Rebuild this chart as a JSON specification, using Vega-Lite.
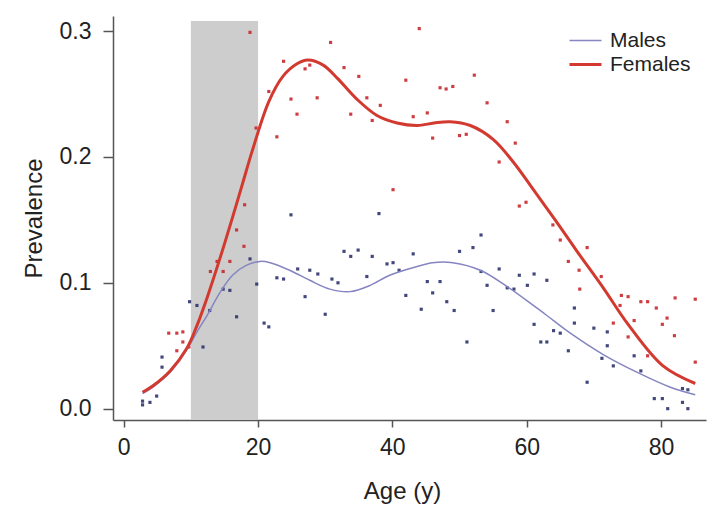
{
  "$schema": "https://vega.github.io/schema/vega-lite/v6.json",
  "width": 593,
  "height": 404,
  "autosize": {"type": "none"},
  "padding": {"left": 113, "top": 16, "right": 22, "bottom": 93},
  "background": "white",
  "config": {
    "view": {"stroke": null},
    "font": "Liberation Sans",
    "axis": {"grid": false, "domainColor": "#555", "domainWidth": 1.5, "tickColor": "#555", "tickWidth": 1.5, "labelColor": "#222", "titleColor": "#222", "labelFont": "Liberation Sans", "titleFont": "Liberation Sans", "titleFontWeight": "normal", "labelFontSize": 23, "titleFontSize": 24}
  },
  "datasets": {
    "band": [{"x1": 10, "x2": 20, "ytop": 0.308, "ybot": -0.009}],
    "points": [
      {"age": 18.8, "prev": 0.299, "sex": "F"}, {"age": 30.8, "prev": 0.291, "sex": "F"}, {"age": 23.8, "prev": 0.276, "sex": "F"},
      {"age": 27, "prev": 0.27, "sex": "F"}, {"age": 27.7, "prev": 0.273, "sex": "F"}, {"age": 28.8, "prev": 0.247, "sex": "F"},
      {"age": 24.9, "prev": 0.246, "sex": "F"}, {"age": 25.8, "prev": 0.234, "sex": "F"}, {"age": 22.8, "prev": 0.216, "sex": "F"},
      {"age": 32.8, "prev": 0.271, "sex": "F"}, {"age": 35, "prev": 0.264, "sex": "F"}, {"age": 36.2, "prev": 0.247, "sex": "F"},
      {"age": 33.8, "prev": 0.234, "sex": "F"}, {"age": 38.2, "prev": 0.241, "sex": "F"}, {"age": 37, "prev": 0.229, "sex": "F"},
      {"age": 42, "prev": 0.261, "sex": "F"}, {"age": 43.1, "prev": 0.232, "sex": "F"}, {"age": 44, "prev": 0.302, "sex": "F"},
      {"age": 47.1, "prev": 0.255, "sex": "F"}, {"age": 48, "prev": 0.254, "sex": "F"}, {"age": 49, "prev": 0.256, "sex": "F"},
      {"age": 52.2, "prev": 0.265, "sex": "F"}, {"age": 54.1, "prev": 0.243, "sex": "F"}, {"age": 45.2, "prev": 0.235, "sex": "F"},
      {"age": 46, "prev": 0.215, "sex": "F"}, {"age": 50, "prev": 0.217, "sex": "F"}, {"age": 51, "prev": 0.218, "sex": "F"},
      {"age": 57.1, "prev": 0.228, "sex": "F"}, {"age": 58.3, "prev": 0.211, "sex": "F"}, {"age": 55.9, "prev": 0.196, "sex": "F"},
      {"age": 58.9, "prev": 0.161, "sex": "F"}, {"age": 59.9, "prev": 0.164, "sex": "F"}, {"age": 21.6, "prev": 0.252, "sex": "F"},
      {"age": 19.7, "prev": 0.223, "sex": "F"}, {"age": 18, "prev": 0.162, "sex": "F"}, {"age": 40.1, "prev": 0.174, "sex": "F"},
      {"age": 63.9, "prev": 0.146, "sex": "F"}, {"age": 65, "prev": 0.134, "sex": "F"}, {"age": 66.2, "prev": 0.117, "sex": "F"},
      {"age": 69, "prev": 0.128, "sex": "F"}, {"age": 67.8, "prev": 0.11, "sex": "F"}, {"age": 71.1, "prev": 0.105, "sex": "F"},
      {"age": 67.9, "prev": 0.095, "sex": "F"}, {"age": 74.1, "prev": 0.09, "sex": "F"}, {"age": 75.1, "prev": 0.089, "sex": "F"},
      {"age": 77, "prev": 0.085, "sex": "F"}, {"age": 78, "prev": 0.085, "sex": "F"}, {"age": 73.9, "prev": 0.082, "sex": "F"},
      {"age": 79.3, "prev": 0.08, "sex": "F"}, {"age": 82.1, "prev": 0.088, "sex": "F"}, {"age": 85.1, "prev": 0.087, "sex": "F"},
      {"age": 80.9, "prev": 0.072, "sex": "F"}, {"age": 76, "prev": 0.07, "sex": "F"}, {"age": 80.2, "prev": 0.067, "sex": "F"},
      {"age": 72.9, "prev": 0.068, "sex": "F"}, {"age": 75.1, "prev": 0.057, "sex": "F"}, {"age": 82, "prev": 0.058, "sex": "F"},
      {"age": 78, "prev": 0.042, "sex": "F"}, {"age": 85.1, "prev": 0.037, "sex": "F"},
      {"age": 6.7, "prev": 0.06, "sex": "F"}, {"age": 7.9, "prev": 0.06, "sex": "F"}, {"age": 8.8, "prev": 0.061, "sex": "F"},
      {"age": 8.8, "prev": 0.053, "sex": "F"}, {"age": 9.7, "prev": 0.049, "sex": "F"}, {"age": 7.9, "prev": 0.046, "sex": "F"},
      {"age": 16.8, "prev": 0.142, "sex": "F"}, {"age": 17.9, "prev": 0.129, "sex": "F"}, {"age": 15.8, "prev": 0.117, "sex": "F"},
      {"age": 13.9, "prev": 0.117, "sex": "F"}, {"age": 12.9, "prev": 0.109, "sex": "F"}, {"age": 14.8, "prev": 0.109, "sex": "F"},
      {"age": 2.8, "prev": 0.006, "sex": "M"}, {"age": 2.8, "prev": 0.003, "sex": "M"}, {"age": 3.9, "prev": 0.005, "sex": "M"},
      {"age": 4.9, "prev": 0.01, "sex": "M"}, {"age": 5.7, "prev": 0.041, "sex": "M"}, {"age": 5.7, "prev": 0.033, "sex": "M"},
      {"age": 9.8, "prev": 0.085, "sex": "M"}, {"age": 10.9, "prev": 0.082, "sex": "M"}, {"age": 11.8, "prev": 0.049, "sex": "M"},
      {"age": 12.8, "prev": 0.078, "sex": "M"}, {"age": 14.8, "prev": 0.095, "sex": "M"}, {"age": 15.8, "prev": 0.094, "sex": "M"},
      {"age": 16.8, "prev": 0.073, "sex": "M"}, {"age": 18.8, "prev": 0.119, "sex": "M"}, {"age": 19.8, "prev": 0.099, "sex": "M"},
      {"age": 20.9, "prev": 0.068, "sex": "M"}, {"age": 21.6, "prev": 0.065, "sex": "M"},
      {"age": 24.9, "prev": 0.154, "sex": "M"}, {"age": 38, "prev": 0.155, "sex": "M"},
      {"age": 22.8, "prev": 0.104, "sex": "M"}, {"age": 23.8, "prev": 0.103, "sex": "M"}, {"age": 25.9, "prev": 0.111, "sex": "M"},
      {"age": 27.7, "prev": 0.11, "sex": "M"}, {"age": 28.9, "prev": 0.107, "sex": "M"}, {"age": 31, "prev": 0.103, "sex": "M"},
      {"age": 31.9, "prev": 0.1, "sex": "M"}, {"age": 27, "prev": 0.089, "sex": "M"}, {"age": 30, "prev": 0.075, "sex": "M"},
      {"age": 32.8, "prev": 0.125, "sex": "M"}, {"age": 33.8, "prev": 0.121, "sex": "M"}, {"age": 34.9, "prev": 0.126, "sex": "M"},
      {"age": 37, "prev": 0.121, "sex": "M"}, {"age": 36.2, "prev": 0.105, "sex": "M"}, {"age": 39.2, "prev": 0.115, "sex": "M"},
      {"age": 40.1, "prev": 0.116, "sex": "M"}, {"age": 41, "prev": 0.11, "sex": "M"}, {"age": 43.1, "prev": 0.123, "sex": "M"},
      {"age": 42, "prev": 0.09, "sex": "M"}, {"age": 44.3, "prev": 0.079, "sex": "M"},
      {"age": 45.2, "prev": 0.101, "sex": "M"}, {"age": 47.1, "prev": 0.101, "sex": "M"}, {"age": 46, "prev": 0.092, "sex": "M"},
      {"age": 48.1, "prev": 0.085, "sex": "M"}, {"age": 49.2, "prev": 0.078, "sex": "M"}, {"age": 50, "prev": 0.125, "sex": "M"},
      {"age": 52, "prev": 0.128, "sex": "M"}, {"age": 53.2, "prev": 0.138, "sex": "M"}, {"age": 53.2, "prev": 0.109, "sex": "M"},
      {"age": 55.9, "prev": 0.111, "sex": "M"}, {"age": 54.1, "prev": 0.098, "sex": "M"}, {"age": 55, "prev": 0.078, "sex": "M"},
      {"age": 51.1, "prev": 0.053, "sex": "M"}, {"age": 57.1, "prev": 0.096, "sex": "M"}, {"age": 58.1, "prev": 0.095, "sex": "M"},
      {"age": 58.9, "prev": 0.106, "sex": "M"}, {"age": 61.1, "prev": 0.107, "sex": "M"}, {"age": 63, "prev": 0.102, "sex": "M"},
      {"age": 60.1, "prev": 0.098, "sex": "M"}, {"age": 61.1, "prev": 0.067, "sex": "M"}, {"age": 62.1, "prev": 0.053, "sex": "M"},
      {"age": 63, "prev": 0.053, "sex": "M"}, {"age": 64, "prev": 0.062, "sex": "M"}, {"age": 65, "prev": 0.06, "sex": "M"},
      {"age": 66.2, "prev": 0.046, "sex": "M"},
      {"age": 67.1, "prev": 0.08, "sex": "M"}, {"age": 67.1, "prev": 0.068, "sex": "M"}, {"age": 70, "prev": 0.064, "sex": "M"},
      {"age": 72, "prev": 0.061, "sex": "M"}, {"age": 72, "prev": 0.05, "sex": "M"}, {"age": 71.2, "prev": 0.04, "sex": "M"},
      {"age": 72.9, "prev": 0.034, "sex": "M"}, {"age": 76, "prev": 0.042, "sex": "M"}, {"age": 77, "prev": 0.03, "sex": "M"},
      {"age": 69, "prev": 0.021, "sex": "M"}, {"age": 79, "prev": 0.008, "sex": "M"}, {"age": 80.2, "prev": 0.008, "sex": "M"},
      {"age": 81, "prev": 0.0, "sex": "M"}, {"age": 83.2, "prev": 0.005, "sex": "M"}, {"age": 84, "prev": 0.0, "sex": "M"},
      {"age": 83.2, "prev": 0.016, "sex": "M"}, {"age": 84, "prev": 0.015, "sex": "M"}
    ],
    "curves": [
      {"age": 2.8, "prev": 0.012, "series": "Males"}, {"age": 4.3, "prev": 0.017, "series": "Males"}, {"age": 6.9, "prev": 0.029, "series": "Males"},
      {"age": 9.4, "prev": 0.047, "series": "Males"}, {"age": 10.9, "prev": 0.061, "series": "Males"}, {"age": 12.4, "prev": 0.074, "series": "Males"},
      {"age": 14.3, "prev": 0.092, "series": "Males"}, {"age": 16.2, "prev": 0.106, "series": "Males"}, {"age": 18.3, "prev": 0.114, "series": "Males"},
      {"age": 20.3, "prev": 0.117, "series": "Males"}, {"age": 21.8, "prev": 0.116, "series": "Males"}, {"age": 24.7, "prev": 0.11, "series": "Males"},
      {"age": 27.7, "prev": 0.102, "series": "Males"}, {"age": 30.7, "prev": 0.095, "series": "Males"}, {"age": 33.7, "prev": 0.093, "series": "Males"},
      {"age": 36.7, "prev": 0.098, "series": "Males"}, {"age": 39.6, "prev": 0.106, "series": "Males"}, {"age": 43.7, "prev": 0.113, "series": "Males"},
      {"age": 46, "prev": 0.116, "series": "Males"}, {"age": 49, "prev": 0.116, "series": "Males"}, {"age": 53.1, "prev": 0.11, "series": "Males"},
      {"age": 57.1, "prev": 0.097, "series": "Males"}, {"age": 61, "prev": 0.082, "series": "Males"}, {"age": 64, "prev": 0.07, "series": "Males"},
      {"age": 66.5, "prev": 0.06, "series": "Males"}, {"age": 71.4, "prev": 0.043, "series": "Males"}, {"age": 76.4, "prev": 0.029, "series": "Males"},
      {"age": 81.4, "prev": 0.017, "series": "Males"}, {"age": 85.1, "prev": 0.011, "series": "Males"},
      {"age": 2.8, "prev": 0.013, "series": "Females"}, {"age": 4.3, "prev": 0.018, "series": "Females"}, {"age": 6.9, "prev": 0.03, "series": "Females"},
      {"age": 9.4, "prev": 0.048, "series": "Females"}, {"age": 10.9, "prev": 0.066, "series": "Females"}, {"age": 12.4, "prev": 0.088, "series": "Females"},
      {"age": 14.3, "prev": 0.119, "series": "Females"}, {"age": 16.2, "prev": 0.152, "series": "Females"}, {"age": 17.7, "prev": 0.179, "series": "Females"},
      {"age": 19.2, "prev": 0.206, "series": "Females"}, {"age": 21.6, "prev": 0.244, "series": "Females"}, {"age": 23.7, "prev": 0.264, "series": "Females"},
      {"age": 25.8, "prev": 0.274, "series": "Females"}, {"age": 27.4, "prev": 0.277, "series": "Females"}, {"age": 29.7, "prev": 0.273, "series": "Females"},
      {"age": 31.9, "prev": 0.262, "series": "Females"}, {"age": 34.7, "prev": 0.246, "series": "Females"}, {"age": 37.7, "prev": 0.233, "series": "Females"},
      {"age": 40.7, "prev": 0.227, "series": "Females"}, {"age": 43.7, "prev": 0.225, "series": "Females"}, {"age": 46.2, "prev": 0.227, "series": "Females"},
      {"age": 48.6, "prev": 0.228, "series": "Females"}, {"age": 51.6, "prev": 0.225, "series": "Females"}, {"age": 55, "prev": 0.214, "series": "Females"},
      {"age": 58, "prev": 0.196, "series": "Females"}, {"age": 61, "prev": 0.174, "series": "Females"}, {"age": 64.5, "prev": 0.148, "series": "Females"},
      {"age": 67.5, "prev": 0.125, "series": "Females"}, {"age": 71.4, "prev": 0.096, "series": "Females"}, {"age": 75.1, "prev": 0.067, "series": "Females"},
      {"age": 80.3, "prev": 0.034, "series": "Females"}, {"age": 85.1, "prev": 0.02, "series": "Females"}
    ]
  },
  "layer": [
    {
      "data": {"name": "band"},
      "mark": {"type": "rect", "color": "#cdcdcd"},
      "encoding": {
        "x": {"field": "x1", "type": "quantitative", "scale": {"domain": [-1.6, 86.7], "nice": false, "zero": false},
              "axis": {"title": "Age (y)", "values": [0, 20, 40, 60, 80], "tickSize": 7, "labelPadding": 9, "titlePadding": 20, "titleX": 289}},
        "x2": {"field": "x2"},
        "y": {"field": "ytop", "type": "quantitative", "scale": {"domain": [-0.009, 0.312], "nice": false, "zero": false},
              "axis": {"title": "Prevalence", "values": [0, 0.1, 0.2, 0.3], "format": ".1f", "tickSize": 10, "labelPadding": 12, "titlePadding": 13}},
        "y2": {"field": "ybot"}
      }
    },
    {
      "data": {"name": "points"},
      "mark": {"type": "square", "size": 10, "filled": true, "opacity": 0.9},
      "encoding": {
        "x": {"field": "age", "type": "quantitative"},
        "y": {"field": "prev", "type": "quantitative"},
        "color": {"field": "sex", "type": "nominal", "scale": {"domain": ["M", "F"], "range": ["#2e336e", "#c8282c"]}, "legend": null}
      }
    },
    {
      "data": {"name": "curves"},
      "mark": {"type": "line", "interpolate": "catmull-rom"},
      "encoding": {
        "x": {"field": "age", "type": "quantitative"},
        "y": {"field": "prev", "type": "quantitative"},
        "stroke": {"field": "series", "type": "nominal", "scale": {"domain": ["Males", "Females"], "range": ["#8585c2", "#d23a30"]},
                   "legend": {"title": null, "orient": "none", "legendX": 462, "legendY": 14, "symbolType": "M-2,0H2", "symbolSize": 256, "labelFontSize": 21, "labelColor": "#222", "labelFont": "Liberation Sans", "rowPadding": 2, "labelOffset": 14}},
        "strokeWidth": {"field": "series", "type": "nominal", "scale": {"domain": ["Males", "Females"], "range": [1.5, 3]},
                   "legend": {"title": null, "orient": "none", "legendX": 462, "legendY": 14, "symbolType": "M-2,0H2", "symbolSize": 256, "labelFontSize": 21, "labelColor": "#222", "labelFont": "Liberation Sans", "rowPadding": 2, "labelOffset": 14}},
        "order": {"field": "age", "type": "quantitative"}
      }
    }
  ]
}
